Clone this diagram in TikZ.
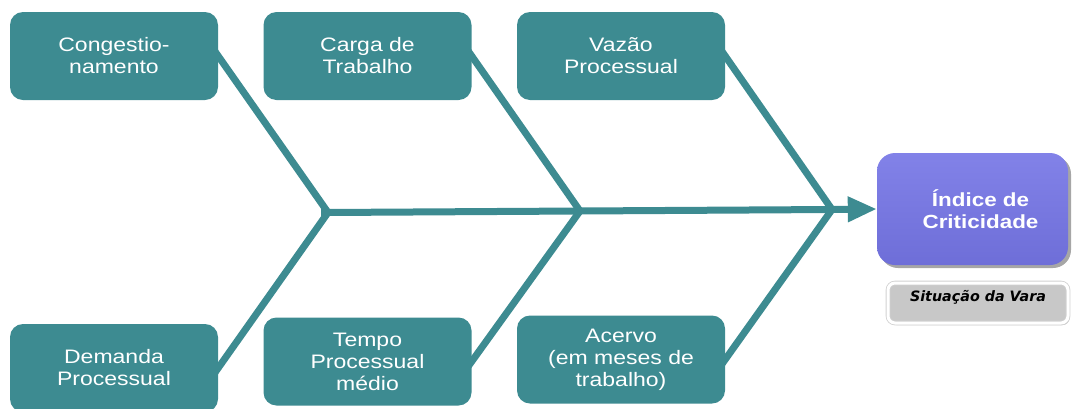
\documentclass[tikz,border=0pt]{standalone}
\usepackage{fontspec}
\setmainfont{Liberation Sans}
\newfontfamily\capfont[FakeStretch=1.18]{Liberation Sans}
\newfontfamily\tagfont{DejaVu Sans}
\usetikzlibrary{shadows,backgrounds,arrows.meta}

\definecolor{fishteal}{RGB}{61,139,145}
\definecolor{idxtop}{RGB}{130,130,232}
\definecolor{idxbot}{RGB}{110,110,216}
\definecolor{tagfill}{RGB}{200,200,200}

\begin{document}
\begin{tikzpicture}[x=1pt,y=-1pt,
  cause/.style={rectangle, rounded corners=13pt, fill=fishteal, text=white,
    minimum width=208pt, minimum height=88pt, inner sep=0pt, align=center,
    font=\capfont\fontsize{19.5}{22}\selectfont},
  bone/.style={draw=fishteal, line width=7pt, line join=miter},
]
\useasboundingbox (0,0) rectangle (1073,408);

% cause boxes
\node[cause] (cong)   at (114,56)    {Congestio-\\namento};
\node[cause] (carga)  at (367.5,56)  {Carga de\\Trabalho};
\node[cause] (vazao)  at (621,56)    {Vazão\\Processual};
\node[cause] (dem)    at (114,368)   {Demanda\\Processual};
\node[cause] (tempo)  at (367.5,361.5) {Tempo\\Processual\\médio};
\node[cause] (acervo) at (621,359.5) {Acervo\\(em meses de\\trabalho)};

% effect box
\node[rectangle, rounded corners=18pt, minimum width=191pt, minimum height=112pt,
  top color=idxtop, bottom color=idxbot,
  drop shadow={shadow xshift=3pt, shadow yshift=-3pt, fill=black, opacity=0.35},
  text=white, align=center, font=\capfont\bfseries\fontsize{19}{22}\selectfont]
  (idx) at (972.5,209) {\hspace*{16pt}Índice de\\\hspace*{16pt}Criticidade};

% caption box
\node[rectangle, rounded corners=7pt, fill=tagfill, draw=black!18,
  double=white, double distance=3pt, line width=0.8pt,
  minimum width=180pt, minimum height=40pt,
  drop shadow={shadow xshift=1.5pt, shadow yshift=-2pt, fill=black, opacity=0.25},
  font=\tagfont\bfseries\itshape\fontsize{14.3}{16}\selectfont,
  text height=10pt, text depth=12.5pt]
  (tag) at (978,303) {Situação da Vara};

% junctions on the spine
\coordinate (tail) at (321,212.5);
\coordinate (j1) at (328,212.5);
\coordinate (j2) at (580,211);
\coordinate (j3) at (832,209.5);

\begin{pgfonlayer}{background}
  % ribs
  \draw[bone, shorten <=-6pt, shorten >=-6pt] (cong.east) -- (j1) -- (dem.east);
  \draw[bone, shorten <=-6pt, shorten >=-6pt] (carga.east) -- (j2) -- (tempo.east);
  \draw[bone, shorten <=-6pt, shorten >=-6pt] (vazao.east) -- (j3) -- (acervo.east);
  % spine
  \draw[bone, -{Triangle[length=29pt,width=24pt]}]
    (tail) -- (j1) -- (j2) -- (j3) -- (idx.west);
\end{pgfonlayer}
\end{tikzpicture}
\end{document}
